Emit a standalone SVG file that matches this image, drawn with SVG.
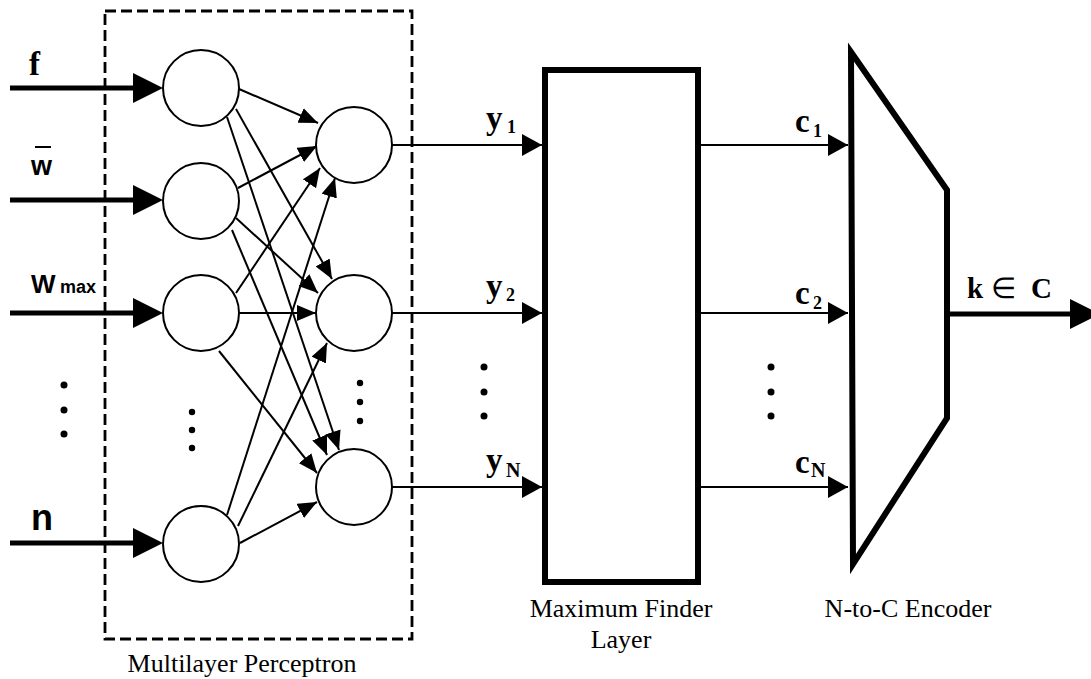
<svg xmlns="http://www.w3.org/2000/svg" width="1091" height="679" viewBox="0 0 1091 679">
  <style>
    .node { fill: #fff; stroke: #000; stroke-width: 2; }
    .block { fill: #fff; stroke: #000; stroke-width: 6; }
    .dash { fill: none; stroke: #000; stroke-width: 2.8; stroke-dasharray: 11 5; }
    .dot { fill: #000; }
    .sb { font-family: "Liberation Sans", Arial, sans-serif; font-weight: bold; fill: #000; }
    .tb { font-family: "Liberation Serif", "Times New Roman", serif; font-weight: bold; fill: #000; }
    .cap { font-family: "Liberation Serif", "Times New Roman", serif; font-size: 26px; text-anchor: middle; fill: #000; }
    .edge { stroke: #000; stroke-width: 2; fill: none; marker-end: url(#ah-small); }
    .sig { stroke: #000; stroke-width: 2; fill: none; marker-end: url(#ah-mid); }
    .bus { stroke: #000; stroke-width: 5; fill: none; marker-end: url(#ah-big); }
  </style>
  <defs>
    <marker id="ah-small" markerUnits="userSpaceOnUse" markerWidth="20" markerHeight="16" refX="19" refY="8" orient="auto">
      <path d="M0,0 L19,8 L0,16 z" fill="#000"/>
    </marker>
    <marker id="ah-mid" markerUnits="userSpaceOnUse" markerWidth="20" markerHeight="22" refX="20" refY="11" orient="auto">
      <path d="M0,0 L20,11 L0,22 z" fill="#000"/>
    </marker>
    <marker id="ah-big" markerUnits="userSpaceOnUse" markerWidth="30" markerHeight="30" refX="15" refY="15" orient="auto">
      <path d="M0,0 L30,15 L0,30 z" fill="#000"/>
    </marker>
  </defs>

  <rect width="1091" height="679" fill="#fff"/>

  <!-- multilayer perceptron frame -->
  <g id="mlp-frame">
    <rect class="dash" x="105" y="11" width="307" height="628"/>
    <text class="cap" x="242" y="672">Multilayer Perceptron</text>
  </g>

  <!-- input labels -->
  <g id="input-labels">
    <text class="tb" x="29" y="75" font-size="33">f</text>
    <line x1="35" y1="147" x2="51" y2="147" stroke="#000" stroke-width="2"/>
    <text class="sb" x="31" y="175" font-size="27">w</text>
    <text class="sb" x="31" y="293" font-size="26">W<tspan x="60" font-size="18">max</tspan></text>
    <text class="sb" x="31" y="530" font-size="36">n</text>
  </g>

  <!-- connectors -->
  <g id="connectors">
    <!-- inputs -->
    <line class="bus" x1="10" y1="88" x2="148" y2="88"/>
    <line class="bus" x1="10" y1="200" x2="148" y2="200"/>
    <line class="bus" x1="10" y1="313" x2="148" y2="313"/>
    <line class="bus" x1="10" y1="543" x2="148" y2="543"/>
    <!-- input layer to hidden layer -->
    <line class="edge" x1="239" y1="89" x2="318" y2="123"/>
    <line class="edge" x1="236" y1="109" x2="332" y2="279"/>
    <line class="edge" x1="227" y1="117" x2="339" y2="450"/>
    <line class="edge" x1="238" y1="188" x2="317" y2="146"/>
    <line class="edge" x1="236" y1="218" x2="318" y2="293"/>
    <line class="edge" x1="232" y1="230" x2="327" y2="455"/>
    <line class="edge" x1="236" y1="293" x2="320" y2="168"/>
    <line class="edge" x1="239" y1="313" x2="316" y2="313"/>
    <line class="edge" x1="219" y1="351" x2="317" y2="473"/>
    <line class="edge" x1="227" y1="515" x2="335" y2="178"/>
    <line class="edge" x1="238" y1="526" x2="327" y2="343"/>
    <line class="edge" x1="240" y1="543" x2="317" y2="502"/>
    <!-- hidden layer to maximum finder -->
    <line class="sig" x1="392" y1="145" x2="542" y2="145"/>
    <line class="sig" x1="392" y1="313" x2="542" y2="313"/>
    <line class="sig" x1="392" y1="487" x2="542" y2="487"/>
    <!-- maximum finder to encoder -->
    <line class="sig" x1="701" y1="145" x2="848" y2="145"/>
    <line class="sig" x1="701" y1="313" x2="848" y2="313"/>
    <line class="sig" x1="701" y1="487" x2="848" y2="487"/>
    <!-- encoder output -->
    <line class="bus" x1="949" y1="314" x2="1085" y2="314"/>
  </g>

  <!-- input layer -->
  <g id="in-f"><circle class="node" cx="201" cy="88" r="38"/></g>
  <g id="in-w"><circle class="node" cx="201" cy="201" r="38"/></g>
  <g id="in-wmax"><circle class="node" cx="201" cy="313" r="38"/></g>
  <g id="in-n"><circle class="node" cx="201" cy="544" r="38"/></g>

  <!-- hidden / output layer of the perceptron -->
  <g id="hid-1"><circle class="node" cx="354" cy="145" r="38"/></g>
  <g id="hid-2"><circle class="node" cx="354" cy="313" r="38"/></g>
  <g id="hid-N"><circle class="node" cx="354" cy="487" r="38"/></g>

  <!-- ellipsis dots -->
  <g id="ellipses">
    <circle class="dot" cx="64" cy="385" r="3.5"/>
    <circle class="dot" cx="64" cy="410" r="3.5"/>
    <circle class="dot" cx="64" cy="434" r="3.5"/>
    <circle class="dot" cx="192" cy="412" r="3.2"/>
    <circle class="dot" cx="192" cy="430" r="3.2"/>
    <circle class="dot" cx="192" cy="448" r="3.2"/>
    <circle class="dot" cx="360" cy="383" r="3.2"/>
    <circle class="dot" cx="360" cy="402" r="3.2"/>
    <circle class="dot" cx="360" cy="421" r="3.2"/>
    <circle class="dot" cx="484" cy="367" r="3.5"/>
    <circle class="dot" cx="484" cy="392" r="3.5"/>
    <circle class="dot" cx="484" cy="416" r="3.5"/>
    <circle class="dot" cx="771" cy="367" r="3.5"/>
    <circle class="dot" cx="771" cy="392" r="3.5"/>
    <circle class="dot" cx="771" cy="416" r="3.5"/>
  </g>

  <!-- signal labels -->
  <g id="signal-labels">
    <text class="tb" x="486" y="129" font-size="33">y<tspan x="507" y="133" font-size="18">1</tspan></text>
    <text class="tb" x="486" y="297" font-size="33">y<tspan x="506" y="301" font-size="18">2</tspan></text>
    <text class="tb" x="486" y="471" font-size="33">y<tspan x="506" y="477" font-size="20">N</tspan></text>
    <text class="tb" x="795" y="132" font-size="33">c<tspan x="813" y="137" font-size="18">1</tspan></text>
    <text class="tb" x="795" y="304" font-size="33">c<tspan x="813" y="309" font-size="18">2</tspan></text>
    <text class="tb" x="795" y="473" font-size="33">c<tspan x="811" y="477" font-size="20">N</tspan></text>
    <text class="tb" x="967" y="298" font-size="29">k<tspan x="991" font-weight="normal">∈</tspan><tspan x="1031">C</tspan></text>
  </g>

  <!-- maximum finder layer -->
  <g id="max-finder">
    <rect class="block" x="545" y="70" width="153" height="512"/>
    <text class="cap" x="621" y="617">Maximum Finder</text>
    <text class="cap" x="621" y="648">Layer</text>
  </g>

  <!-- N-to-C encoder -->
  <g id="encoder">
    <polygon class="block" points="851,52 947,190 947,418 853,564"/>
    <text class="cap" x="908" y="617">N-to-C Encoder</text>
  </g>
</svg>
